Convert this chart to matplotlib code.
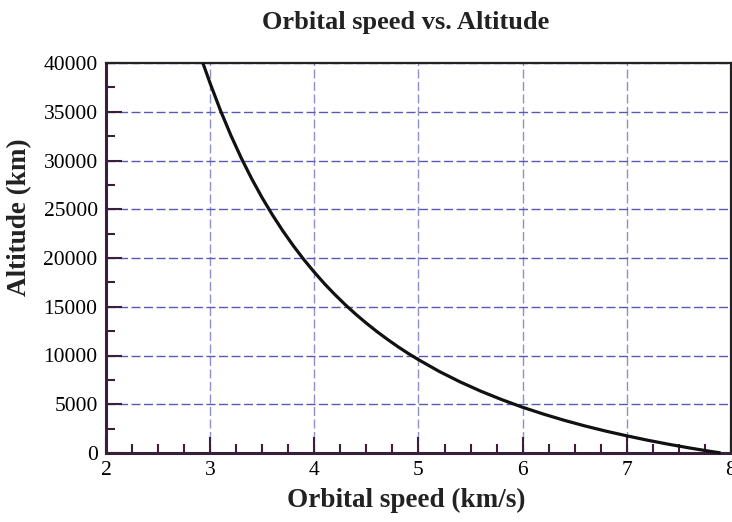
import matplotlib
matplotlib.use("Agg")
import matplotlib.pyplot as plt
from matplotlib.ticker import MultipleLocator

speed = [2.93, 3.0, 3.1, 3.2, 3.3, 3.4, 3.5, 3.6, 3.7, 3.8, 3.9, 4.0,
         4.1, 4.2, 4.3, 4.4, 4.5, 4.6, 4.7, 4.8, 4.9, 5.0,
         5.2, 5.4, 5.6, 5.8, 6.0, 6.2, 6.4, 6.6, 6.8, 7.0,
         7.2, 7.4, 7.6, 7.8, 7.9]
altitude = [40000, 37910, 35100, 32550, 30220, 28100, 26160, 24380, 22740, 21230, 19830, 18540,
            17330, 16220, 15180, 14210, 13310, 12460, 11670, 10920, 10220, 9570,
            8360, 7290, 6330, 5470, 4690, 3990, 3350, 2770, 2240, 1760,
            1310, 900, 520, 170, 10]

xticks = [2, 3, 4, 5, 6, 7, 8]
yticks = [0, 5000, 10000, 15000, 20000, 25000, 30000, 35000, 40000]

plt.rcParams['font.family'] = ['Liberation Serif', 'DejaVu Serif']

W, H = 732, 522
fig = plt.figure(figsize=(W/100, H/100), dpi=100)
ax = fig.add_axes([106/W, 1-453/H, (731-106)/W, (453-63)/H])

ax.plot(speed, altitude, color='#111111', lw=2.3, zorder=3, clip_on=False,
        solid_capstyle='butt')

ax.set_xlim(2, 8)
ax.set_ylim(0, 40000)
ax.set_xticks(xticks)
ax.set_yticks(yticks)
ax.xaxis.set_minor_locator(MultipleLocator(0.25))
ax.yaxis.set_minor_locator(MultipleLocator(2500))
ax.tick_params(axis='both', which='major', direction='in', length=11.5, width=1.5,
               color='#3a1f3a', labelsize=15.5, pad=6)
ax.tick_params(axis='both', which='minor', direction='in', length=6.5, width=1.5,
               color='#3a1f3a')

ax.grid(True, which='major', axis='y', color='#5a5ab4', linestyle=(0, (6.5, 2.5)), lw=1)
ax.grid(True, which='major', axis='x', color='#8f8fce', linestyle=(0, (6.5, 2.5)), lw=1)
ax.set_axisbelow(True)

for s in ['left', 'bottom']:
    ax.spines[s].set_color('#3a1f3a')
    ax.spines[s].set_linewidth(2.2)
for s in ['top', 'right']:
    ax.spines[s].set_color('#222222')
    ax.spines[s].set_linewidth(1.6)

fig.text(406/W, 1-22/H, 'Orbital speed vs. Altitude', fontsize=19, fontweight='bold',
         ha='center', va='center', color='#222222')
fig.text(406/W, 1-500/H, 'Orbital speed (km/s)', fontsize=19.5, fontweight='bold',
         ha='center', va='center', color='#222222')
fig.text(20/W, 1-217/H, 'Altitude (km)', fontsize=19.5, fontweight='bold',
         ha='center', va='center', rotation=90, color='#222222')

fig.savefig('out.png', dpi=100)
